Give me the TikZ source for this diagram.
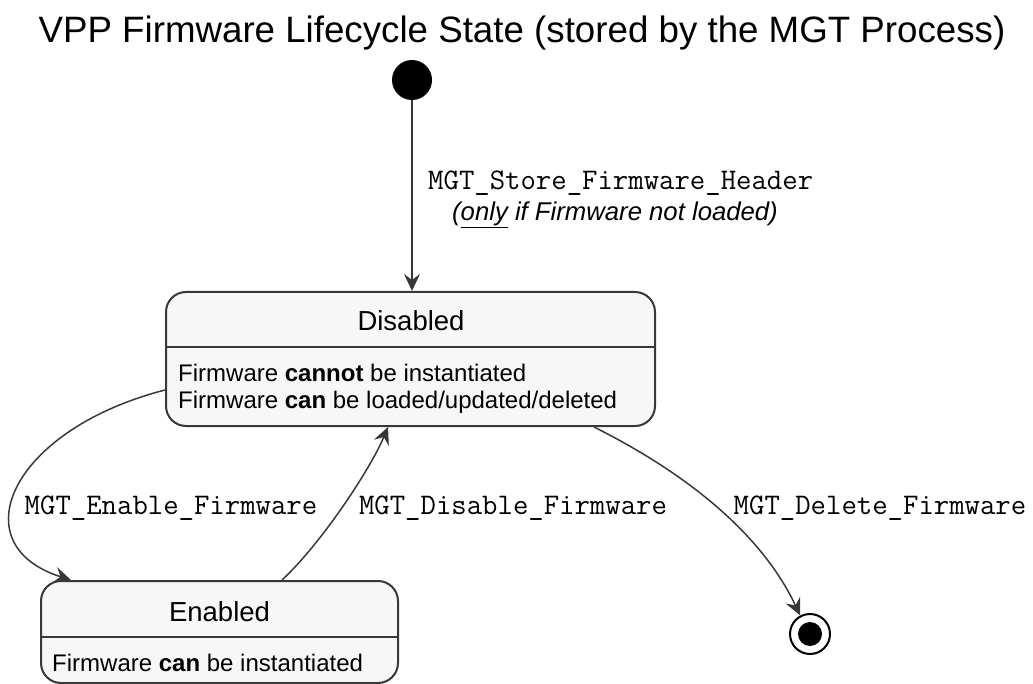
\documentclass[tikz,border=0pt]{standalone}
\usepackage{fontspec}
\setmainfont{Liberation Sans}
\usetikzlibrary{arrows.meta}
\definecolor{edge}{HTML}{383838}
\definecolor{boxfill}{HTML}{F7F7F7}
\tikzset{
  statebox/.style={draw=edge, fill=boxfill, line width=2pt, rounded corners=20pt, inner sep=0pt},
  trans/.style={draw=edge, line width=1.5pt, -{Stealth[length=17pt,width=16pt,inset=6pt]}},
  evt/.style={font=\ttfamily\fontsize{29.9}{34}\selectfont, inner sep=0pt},
  body/.style={font=\fontsize{24}{28}\selectfont, inner sep=0pt, anchor=west},
  sname/.style={font=\fontsize{27.5}{32}\selectfont, inner sep=0pt},
}
\begin{document}
\begin{tikzpicture}[x=1pt, y=-1pt]
\useasboundingbox (0,0) rectangle (1033,684);

% title
\node[font=\fontsize{36.7}{42}\selectfont, inner sep=0pt] (title) at (522,33) {VPP Firmware Lifecycle State (stored by the MGT Process)};

% initial pseudo-state
\node[circle, fill=black, minimum size=40pt, inner sep=0pt] (init) at (412,80) {};

% Disabled state
\node[statebox, minimum width=489pt, minimum height=134pt] (dis) at (410.5,359) {};
\draw[edge, line width=2pt] (dis.west |- 0,347) -- (dis.east |- 0,347);
\node[sname] (disname) at (411,321) {Disabled};
\node[body] (dis1) at (178,373) {Firmware \textbf{cannot} be instantiated};
\node[body] (dis2) at (178,402) {Firmware \textbf{can} be loaded/updated/deleted};

% Enabled state
\node[statebox, minimum width=357pt, minimum height=102pt] (en) at (219.5,632) {};
\draw[edge, line width=2pt] (en.west |- 0,637) -- (en.east |- 0,637);
\node[sname] (enname) at (219.5,612) {Enabled};
\node[body] (en1) at (52,663) {Firmware \textbf{can} be instantiated};

% final pseudo-state
\node[circle, draw=black, fill=white, line width=2pt, minimum size=40pt, inner sep=0pt] (fin) at (810,634) {};
\node[circle, fill=black, minimum size=24pt, inner sep=0pt] (fincore) at (fin) {};

% transitions
\draw[trans] (init.south) -- (init.south |- dis.north);
\node[evt, anchor=west] (lstore) at (428,183) {MGT\_Store\_Firmware\_Header};
\node[font=\itshape\fontsize{25.7}{30}\selectfont, inner sep=0pt] (lonly) at (615,215) {(\underline{only} if Firmware not loaded)};

\draw[trans] ([yshift=-31pt]dis.west) .. controls (10,430) and (-40,545) .. ([xshift=31pt]en.north west);
\node[evt] (lenable) at (171,508) {MGT\_Enable\_Firmware};

\draw[trans] ([xshift=62.5pt]en.north) .. controls (320,545) and (370,470) .. ([xshift=-22.5pt]dis.south);
\node[evt] (ldisable) at (513,508) {MGT\_Disable\_Firmware};

\draw[trans] ([xshift=183.5pt]dis.south) .. controls (680,470) and (760,530) .. (fin.118);
\node[evt] (ldelete) at (880,508) {MGT\_Delete\_Firmware};
\end{tikzpicture}
\end{document}
